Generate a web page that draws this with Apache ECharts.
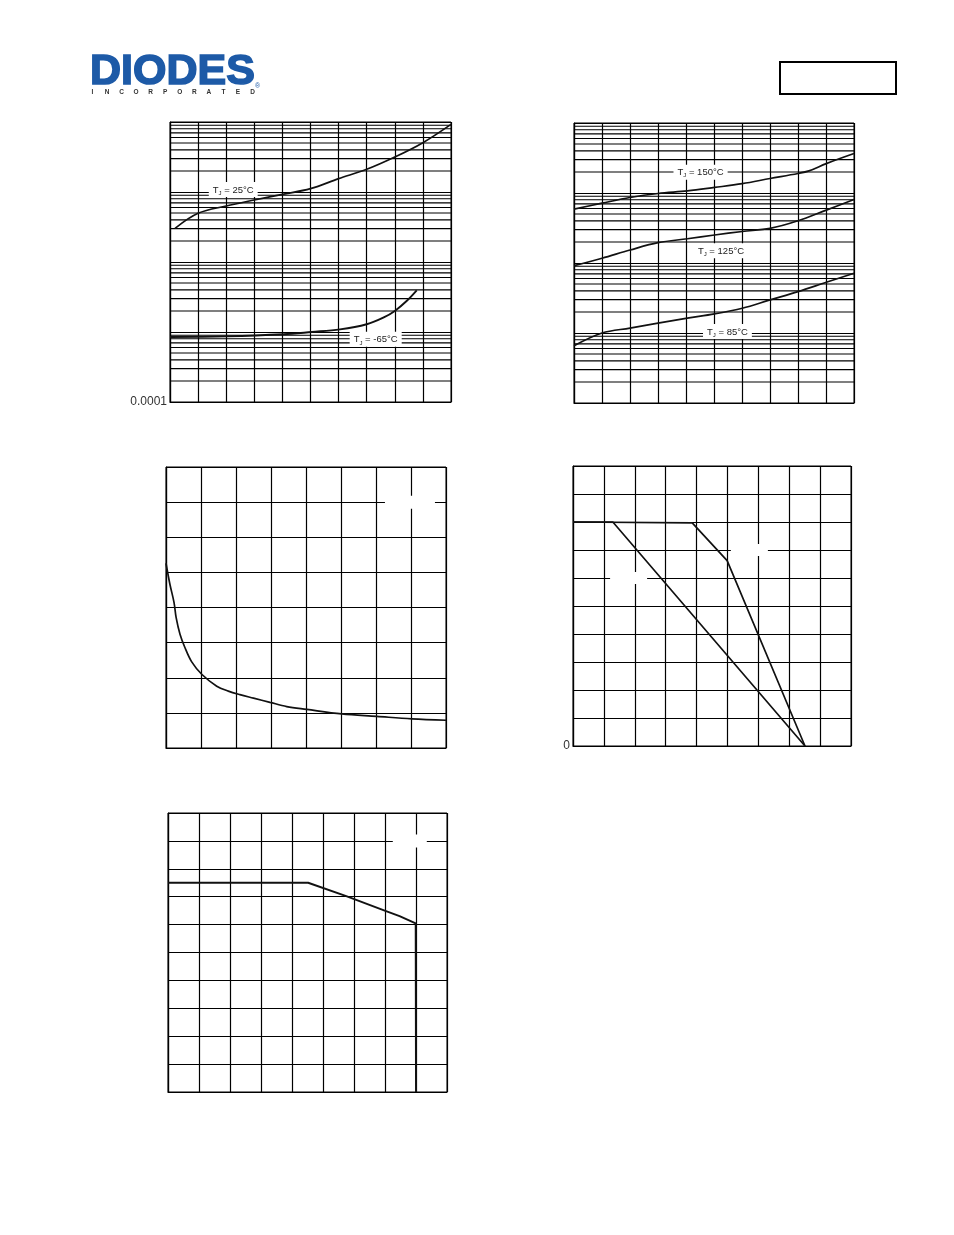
<!DOCTYPE html>
<html>
<head>
<meta charset="utf-8">
<title>Diodes characteristics</title>
<script src="https://cdn.jsdelivr.net/npm/echarts@6.0.0/dist/echarts.min.js"></script>
<style>
html,body{margin:0;padding:0;background:#fff;}
#chart{width:954px;height:1235px;}
</style>
</head>
<body>
<div id="chart"></div>
<script>
// ================= DATA =================
// Chart 1 (top-left, logarithmic y)
const c1XMax = 10;
const c1YMin = 0.0001;
const c1YMax = 1;
const c1MinorExp = [-4, -3, -2, -1];
const c1X25 = [0.18, 1, 2, 3, 4, 5, 6, 7, 8, 9, 10];
const c1Y25 = [0.0303, 0.0496, 0.0631, 0.0769, 0.0926, 0.1116, 0.155, 0.211, 0.316, 0.507, 0.926];
const c1Xm65 = [0, 2.02, 4.03, 5.04, 6.05, 7, 7.59, 8, 8.42, 8.78];
const c1Ym65 = [0.00085, 0.000867, 0.000927, 0.001, 0.00109, 0.00129, 0.0016, 0.002, 0.00277, 0.00394];
const c1LabelTemp = ['25', '-65'];
const c1LabelX = [2.25, 7.32];
const c1LabelY = [0.109, 0.000785];
const c1YTickText = '0.0001';

// Chart 2 (top-right, logarithmic y)
const c2XMax = 10;
const c2YMin = 0.01;
const c2YMax = 100;
const c2MinorExp = [-2, -1, 0, 1];
const c2X150 = [0, 1, 2, 3, 4.05, 5.02, 6.01, 7, 8, 8.39, 9.01, 10];
const c2Y150 = [5.89, 7.16, 8.63, 9.84, 10.7, 12.0, 13.6, 16.1, 19.0, 20.7, 26.3, 36.6];
const c2X125 = [0, 1, 2, 3, 4.05, 5.02, 6.01, 7, 8, 9.01, 10];
const c2Y125 = [0.916, 1.167, 1.531, 1.95, 2.22, 2.51, 2.82, 3.12, 4.01, 5.70, 8.07];
const c2X85 = [0, 1, 2, 3, 4.05, 5.02, 6.01, 7, 8, 9.01, 10];
const c2Y85 = [0.0656, 0.1, 0.1175, 0.138, 0.163, 0.1875, 0.226, 0.297, 0.39, 0.53, 0.713];
const c2LabelTemp = ['150', '125', '85'];
const c2LabelX = [4.52, 5.25, 5.48];
const c2LabelY = [19.8, 1.5, 0.105];

// Chart 3 (middle-left)
const c3XMax = 8;
const c3YMax = 8;
const c3X = [0, 0.11, 0.23, 0.29, 0.4, 0.54, 0.73, 1.02, 1.45, 1.78, 2.11, 2.5, 2.97, 3.45, 4.02, 5.02, 6.02, 7.02, 8];
const c3Y = [5.26, 4.67, 4.14, 3.71, 3.24, 2.86, 2.46, 2.1, 1.76, 1.62, 1.52, 1.42, 1.3, 1.18, 1.1, 0.97, 0.9, 0.83, 0.79];
const c3GapX = [6.97];
const c3GapY = [7];

// Chart 4 (middle-right)
const c4XMax = 9;
const c4YMax = 10;
const c4XA = [0, 3.86, 4.99, 7.51];
const c4YA = [8, 7.97, 6.62, 0];
const c4XB = [0, 1.29, 7.51];
const c4YB = [8, 8, 0];
const c4GapX = [5.71, 1.80];
const c4GapY = [7, 6];
const c4YTickText = '0';

// Chart 5 (bottom-left)
const c5XMax = 9;
const c5YMax = 10;
const c5X = [0, 4.52, 5.75, 6.99, 7.47, 7.99, 8];
const c5Y = [7.5, 7.5, 7.02, 6.5, 6.3, 6.04, 0];
const c5GapX = [7.8];
const c5GapY = [9];

// Logarithmic paper minor divisions
const logMinorSteps = [2, 3, 4, 5, 6, 7, 8, 9];

// Header
const logoText = 'DIODES';
const logoSub = 'INCORPORATED';

// ================= BUILD =================
const FONT = "'Liberation Sans', Arial, Helvetica, sans-serif";
const GRID_LINE = { color: '#000', width: 1.2 };

function pairs(xs, ys) { return xs.map((x, i) => [x, ys[i]]); }

function xAxisLin(gi, max) {
  return {
    type: 'value', gridIndex: gi, min: 0, max: max, interval: 1,
    axisLine: { show: true, lineStyle: GRID_LINE },
    axisTick: { show: false }, axisLabel: { show: false },
    splitLine: { show: true, lineStyle: GRID_LINE }
  };
}
function yAxisLin(gi, max, tickText) {
  return {
    type: 'value', gridIndex: gi, min: 0, max: max, interval: 1,
    axisLine: { show: true, lineStyle: GRID_LINE },
    axisTick: { show: false },
    axisLabel: {
      show: !!tickText, margin: 3, fontSize: 12, fontFamily: FONT, color: '#333',
      padding: [0, 0, 7, 0],
      formatter: v => (tickText && v === 0) ? tickText : ''
    },
    splitLine: { show: true, lineStyle: GRID_LINE }
  };
}
function yAxisLog(gi, min, max, tickText) {
  return {
    type: 'log', logBase: 10, gridIndex: gi, min: min, max: max,
    axisLine: { show: true, lineStyle: GRID_LINE },
    axisTick: { show: false },
    axisLabel: {
      show: !!tickText, margin: 3, fontSize: 12, fontFamily: FONT, color: '#333',
      padding: [0, 0, 6, 0],
      formatter: v => (tickText && Math.abs(v - min) / min < 1e-6) ? tickText : ''
    },
    splitLine: { show: true, lineStyle: GRID_LINE }
  };
}
function minorLines(gi, exps, xMax) {
  const data = [];
  exps.forEach(e => logMinorSteps.forEach(d => {
    const v = d * Math.pow(10, e);
    data.push([0, v], [xMax, v], ['-', '-']);
  }));
  return {
    type: 'line', xAxisIndex: gi, yAxisIndex: gi, data: data,
    showSymbol: false, symbol: 'none', connectNulls: false,
    lineStyle: { color: '#000', width: 1.1 }, z: 1, silent: true
  };
}
function curve(gi, xs, ys, smooth, width) {
  return {
    type: 'line', xAxisIndex: gi, yAxisIndex: gi, data: pairs(xs, ys),
    showSymbol: false, symbol: 'none', smooth: smooth ? 0.35 : false,
    lineStyle: { color: '#111', width: width || 1.7 }, z: 3, silent: true
  };
}
function tjLabels(gi, xs, ys, temps) {
  return {
    type: 'scatter', xAxisIndex: gi, yAxisIndex: gi, z: 6, silent: true,
    symbolSize: 1, itemStyle: { color: 'rgba(0,0,0,0)', opacity: 1 },
    data: xs.map((x, i) => ({ value: [x, ys[i]], name: temps[i] })),
    label: {
      show: true, position: 'inside',
      formatter: p => '{a|T}{s|J}{a| = ' + p.name + '°C}',
      backgroundColor: '#fff', padding: [2, 4, 1, 4],
      rich: {
        a: { fontSize: 9.5, fontFamily: FONT, color: '#222', lineHeight: 12 },
        s: { fontSize: 6, fontFamily: FONT, color: '#222', lineHeight: 6, verticalAlign: 'bottom' }
      }
    }
  };
}
function gapBoxes(gi, xs, ys, w, h) {
  return {
    type: 'scatter', xAxisIndex: gi, yAxisIndex: gi, z: 6, silent: true,
    symbol: 'rect', symbolSize: [w, h], itemStyle: { color: '#fff', opacity: 1 },
    data: pairs(xs, ys)
  };
}

const grids = [
  { left: 170, top: 122, width: 281, height: 280 },
  { left: 574, top: 123, width: 280, height: 280 },
  { left: 166, top: 467, width: 280, height: 281 },
  { left: 573, top: 466, width: 278, height: 280 },
  { left: 168, top: 813, width: 279, height: 279 }
].map(g => Object.assign(g, { show: true, borderColor: '#000', borderWidth: 1, containLabel: false, outerBoundsMode: 'none' }));

const graphics = [
  { type: 'text', x: 90, y: 72, scaleX: 1.0, z: 10,
    style: { text: logoText, fill: '#1d5aa7', stroke: '#1d5aa7', lineWidth: 1.6,
             font: 'bold 43px ' + FONT, align: 'left', verticalAlign: 'middle' } },
  { type: 'text', x: 255, y: 86, z: 10,
    style: { text: '®', fill: '#1d5aa7', font: '7px ' + FONT, align: 'left', verticalAlign: 'middle' } },
  { type: 'rect', z: 10, shape: { x: 780, y: 62, width: 116, height: 32 },
    style: { fill: 'none', stroke: '#000', lineWidth: 2 } }
];
logoSub.split('').forEach((ch, i) => {
  graphics.push({ type: 'text', x: 92.5 + i * 14.55, y: 92.5, z: 10,
    style: { text: ch, fill: '#333', font: 'bold 6.5px ' + FONT, align: 'center', verticalAlign: 'middle' } });
});

const option = {
  backgroundColor: '#fff',
  animation: false,
  grid: grids,
  xAxis: [xAxisLin(0, c1XMax), xAxisLin(1, c2XMax), xAxisLin(2, c3XMax), xAxisLin(3, c4XMax), xAxisLin(4, c5XMax)],
  yAxis: [
    yAxisLog(0, c1YMin, c1YMax, c1YTickText),
    yAxisLog(1, c2YMin, c2YMax, null),
    yAxisLin(2, c3YMax, null),
    yAxisLin(3, c4YMax, c4YTickText),
    yAxisLin(4, c5YMax, null)
  ],
  graphic: graphics,
  series: [
    minorLines(0, c1MinorExp, c1XMax),
    curve(0, c1X25, c1Y25, true),
    curve(0, c1Xm65, c1Ym65, true, 1.9),
    tjLabels(0, c1LabelX, c1LabelY, c1LabelTemp),

    minorLines(1, c2MinorExp, c2XMax),
    curve(1, c2X150, c2Y150, true),
    curve(1, c2X125, c2Y125, true),
    curve(1, c2X85, c2Y85, true),
    tjLabels(1, c2LabelX, c2LabelY, c2LabelTemp),

    curve(2, c3X, c3Y, true),
    gapBoxes(2, c3GapX, c3GapY, 50, 13),

    curve(3, c4XA, c4YA, false),
    curve(3, c4XB, c4YB, false),
    gapBoxes(3, c4GapX, c4GapY, 37, 12),

    curve(4, c5X, c5Y, false, 1.9),
    gapBoxes(4, c5GapX, c5GapY, 34, 13)
  ]
};

const chart = echarts.init(document.getElementById('chart'), null, { renderer: 'canvas' });
chart.setOption(option);
</script>
</body>
</html>
